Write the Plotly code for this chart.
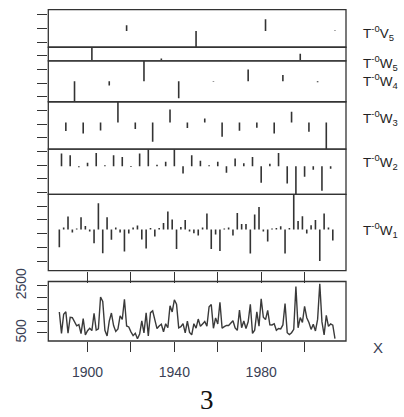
import plotly.graph_objects as go

# ---------------- data ----------------
years = list(range(1887, 2015))
flow = [1391, 478, 1294, 1397, 494, 1165, 1152, 998, 804, 856,
        473, 1107, 415, 595, 701, 599, 1329, 622, 672, 2028,
        1837, 614, 368, 1003, 1345, 815, 564, 667, 1228, 1073,
        1930, 795, 753, 547, 384, 487, 250, 456, 1013, 497,
        1355, 375, 1362, 1438, 1045, 685, 792, 868, 552, 888,
        720, 1650, 1392, 1908, 1723, 717, 765, 894, 505, 1005,
        521, 419, 890, 700, 1090, 780, 883, 987, 787, 1613,
        1703, 697, 1139, 881, 1805, 696, 769, 821, 814, 917,
        1020, 710, 609, 1471, 723, 1007, 688, 972, 1719, 481,
        618, 1392, 790, 1950, 1167, 1064, 1460, 840, 839, 891,
        612, 689, 670, 840, 1749, 511, 432, 508, 652, 2468,
        716, 1154, 947, 1633, 1148, 942, 649, 871, 585, 1075,
        2592, 968, 417, 1243, 779, 881, 829, 261]

w1_years = list(range(1887, 2014, 2))
w1 = [-17.7, 2, 13, -3, 1, 12.3, 3.5, -2, -13.7, 26.3,
      -23.7, 12.3, -10.3, 2, -3, -22, -4, 2, 4, -10,
      -19, 1.5, -7, 1.5, 6.5, 18, 10, -19.5, 2.5, 9.7,
      -2, -3.7, -6, 2, 16, -19.5, -5, -21.5, 1, 2,
      -6, 16.7, 5.5, 5.5, -24, 15, 22.5, -2, -12, 1,
      1.5, 3.3, -24, 1.5, 35.2, 8.5, 13.3, -4, 4.3, 9.5,
      -31.5, 16, 2, -11]

w2_years = list(range(1888, 2014, 4))
w2 = [12.7, 11, -1, 3.3, 13.3, 1, 11, 9.3, -0.8, 12.7,
      17, 1.5, 4.3, 17, -7.3, 11, 5.3, 0.8, 4.3, -6.7,
      7.7, 3, 9.3, -16.7, 2.5, 13.3, -17.3, -28.3, -10.7, -3.5,
      -24.7, -2.5]

w3_years = list(range(1890, 2014, 8))
w3 = [-8.5, -11, -8, 20.7, -6.7, -19.3, 13, -5.5, 4, -14.3,
      -8.3, -5.3, -11, 10.7, -9.3, -26.8]

w4_years = list(range(1894, 2014, 16))
w4 = [-20.6, -4.2, 20.4, -17.2, -0.6, 11.8, 6.3, -1.0]

w5_years = list(range(1902, 2014, 32))
w5 = [12.8, 1.5, -0.8, 6.2]

v5_years = list(range(1918, 2015, 32))
v5 = [5.7, -16.2, 11.7, 0.5]

level_names = [("V", "5"), ("W", "5"), ("W", "4"), ("W", "3"), ("W", "2"), ("W", "1")]
level_years = [v5_years, w5_years, w4_years, w3_years, w2_years, w1_years]
level_vals = [v5, w5, w4, w3, w2, w1]
label_shift = [-2, -2.5, 0.5, 4, 4, 0]

x_tickvals = [1900, 1920, 1940, 1960, 1980, 2000]
x_ticktext = ["1900", "", "1940", "", "1980", ""]
y_tickvals = [500, 1000, 1500, 2000, 2500]
y_ticktext = ["500", "", "", "", "2500"]

# ---------------- geometry ----------------
W, H = 404, 417
def px_x(p): return p / W
def px_y(p): return 1 - p / H

x_dom = [px_x(48.3), px_x(346)]
stack_top, stack_bot = px_y(9.7), px_y(270.7)
xpanel_dom = [px_y(341), px_y(281.5)]

span = max(years) - min(years)
x_range = [min(years) - 0.04 * span, max(years) + 0.04 * span]

ranges = [[min(v), max(v)] for v in level_vals]
raw_total = sum(hi - lo for lo, hi in ranges)
pad = 0.04 * raw_total
ranges[0][1] += pad
ranges[-1][0] -= pad
total = sum(hi - lo for lo, hi in ranges)

ink = "#333333"
lab = "#3a3f55"
font = "Liberation Sans, Arial, sans-serif"

fig = go.Figure()
layout = dict(template="none", width=W, height=H, margin=dict(l=0, r=0, t=0, b=0, pad=0),
              paper_bgcolor="white", plot_bgcolor="rgba(0,0,0,0)", showlegend=False)
shapes, annotations = [], []

top = stack_top
for i, ((kind, j), yrs, vals, (lo, hi)) in enumerate(zip(level_names, level_years, level_vals, ranges)):
    h = (hi - lo) / total * (stack_top - stack_bot)
    dom = [top - h, top]
    top -= h
    name = "yaxis" if i == 0 else f"yaxis{i+1}"
    ref = "y" if i == 0 else f"y{i+1}"
    layout[name] = dict(domain=dom, range=[lo, hi], anchor="x", showgrid=False,
                        zeroline=False, showticklabels=False, ticks="", showline=False,
                        automargin=False, fixedrange=True)
    xs, ys = [], []
    for yr, v in zip(yrs, vals):
        xs += [yr, yr, None]
        ys += [0, v, None]
    fig.add_trace(go.Scatter(x=xs, y=ys, mode="lines", xaxis="x", yaxis=ref,
                             line=dict(color=ink, width=1.6), hoverinfo="skip"))
    shapes.append(dict(type="rect", xref="x domain", yref=f"{ref} domain",
                       x0=0, x1=1, y0=0, y1=1, line=dict(color=ink, width=1.3)))
    annotations.append(dict(xref="paper", yref=ref, x=px_x(361), y=0, yshift=label_shift[i],
                            xanchor="left", yanchor="middle", showarrow=False,
                            text=f"T<sup>-0</sup>{kind}<sub>{j}</sub>",
                            font=dict(family=font, size=13.5, color="#222")))

# stack x axis (ticks between the two blocks)
layout["xaxis"] = dict(domain=x_dom, range=x_range, anchor="y6", showgrid=False,
                       zeroline=False, showticklabels=False, ticks="outside",
                       ticklen=11, tickwidth=1.2, tickcolor=ink, automargin=False,
                       tickvals=x_tickvals, showline=False)

# left ticks across the whole stack
layout["yaxis8"] = dict(domain=[stack_bot, stack_top], range=[0, total], anchor="x",
                        showgrid=False, zeroline=False, showticklabels=False,
                        ticks="outside", ticklen=10, tickwidth=1.2, tickcolor=ink,
                        tick0=9.7, dtick=13.7, showline=False, automargin=False)
fig.add_trace(go.Scatter(x=[None], y=[None], xaxis="x", yaxis="y8", hoverinfo="skip"))

# X series panel
fig.add_trace(go.Scatter(x=years, y=flow, mode="lines", xaxis="x2", yaxis="y7",
                         line=dict(color="#3a3a3a", width=1.4), hoverinfo="skip"))
fspan = max(flow) - min(flow)
layout["yaxis7"] = dict(domain=xpanel_dom, anchor="x2",
                        range=[min(flow) - 0.04 * fspan, max(flow) + 0.04 * fspan],
                        showgrid=False, zeroline=False, ticks="outside", ticklen=10,
                        tickwidth=1.2, tickcolor=ink, automargin=False,
                        tickvals=y_tickvals, ticktext=y_ticktext, tickangle=-90,
                        tickfont=dict(family=font, size=14, color=lab),
                        ticklabelstandoff=6, showline=False)
layout["xaxis2"] = dict(domain=x_dom, range=x_range, anchor="y7", showgrid=False,
                        zeroline=False, ticks="outside", ticklen=10, tickwidth=1.2,
                        tickcolor=ink, tickvals=x_tickvals, ticktext=x_ticktext,
                        tickfont=dict(family=font, size=14, color=lab),
                        ticklabelstandoff=8, automargin=False, showline=False)
shapes.append(dict(type="rect", xref="x2 domain", yref="y7 domain",
                   x0=0, x1=1, y0=0, y1=1, line=dict(color=ink, width=1.3)))

annotations.append(dict(xref="paper", yref="paper", x=px_x(378), y=px_y(347),
                        text="X", showarrow=False, xanchor="center", yanchor="middle",
                        font=dict(family=font, size=15, color=lab)))
annotations.append(dict(xref="paper", yref="paper", x=px_x(206.7), y=px_y(400),
                        text="3", showarrow=False, xanchor="center", yanchor="middle",
                        font=dict(family="Liberation Serif, Times New Roman, serif",
                                  size=27, color="#111")))

layout["shapes"] = shapes
layout["annotations"] = annotations
fig.update_layout(**layout)
fig.write_html("out.html")
